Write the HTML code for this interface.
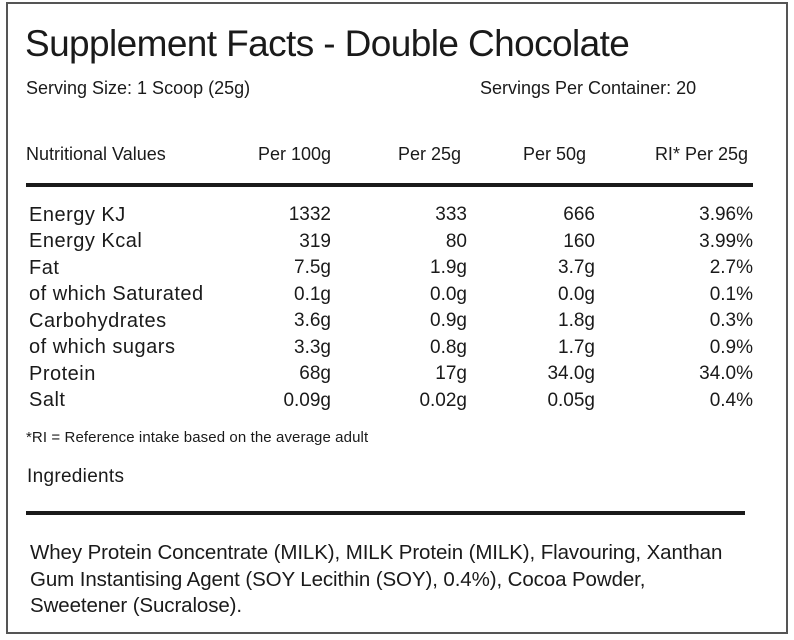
<!DOCTYPE html>
<html><head><meta charset="utf-8"><style>
body{margin:0;width:794px;height:640px;background:#fff;position:relative;font-family:"Liberation Sans",Arial,sans-serif;color:#1a1a1a;overflow:hidden}
.b{position:absolute;left:6px;top:2px;width:778px;height:628px;border:2px solid #555}
.t{position:absolute;white-space:nowrap;line-height:1}
.r{text-align:right}
.hl{position:absolute;background:#1a1a1a}
</style></head><body>
<div class="b"></div>
<div class="t" style="left:25px;top:25px;font-size:37px;letter-spacing:-0.6px">Supplement Facts - Double Chocolate</div>
<div class="t" style="left:26px;top:79px;font-size:18px">Serving Size: 1 Scoop (25g)</div>
<div class="t" style="left:480px;top:79px;font-size:18px">Servings Per Container: 20</div>
<div class="t" style="left:26px;top:145px;font-size:18px">Nutritional Values</div>
<div class="t r" style="left:200px;width:131px;top:145px;font-size:18px">Per 100g</div>
<div class="t r" style="left:360px;width:101px;top:145px;font-size:18px">Per 25g</div>
<div class="t r" style="left:480px;width:106px;top:145px;font-size:18px">Per 50g</div>
<div class="t r" style="left:600px;width:148px;top:145px;font-size:18px">RI* Per 25g</div>
<div class="hl" style="left:26px;top:183px;width:727px;height:4px"></div>
<div id="rows"></div>
<div class="t" style="left:26px;top:430px;font-size:15px;letter-spacing:0.1px">*RI = Reference intake based on the average adult</div>
<div class="t" style="left:27px;top:467px;font-size:19px;letter-spacing:0.3px">Ingredients</div>
<div class="hl" style="left:26px;top:511px;width:719px;height:4px"></div>
<div class="t" style="left:30px;top:540px;font-size:20.5px;line-height:26.5px;letter-spacing:-0.1px">Whey Protein Concentrate (MILK), MILK Protein (MILK), Flavouring, Xanthan<br>Gum Instantising Agent (SOY Lecithin (SOY), 0.4%), Cocoa Powder,<br>Sweetener (Sucralose).</div>
<script>
var d=[["Energy KJ","1332","333","666","3.96%"],["Energy Kcal","319","80","160","3.99%"],["Fat","7.5g","1.9g","3.7g","2.7%"],["of which Saturated","0.1g","0.0g","0.0g","0.1%"],["Carbohydrates","3.6g","0.9g","1.8g","0.3%"],["of which sugars","3.3g","0.8g","1.7g","0.9%"],["Protein","68g","17g","34.0g","34.0%"],["Salt","0.09g","0.02g","0.05g","0.4%"]];
var rr=[331,467,595,753],h="";
d.forEach(function(r,i){var y=205+i*26.5;
h+='<div class="t" style="left:29px;top:'+(y-0.5)+'px;font-size:20px;letter-spacing:0.5px">'+r[0]+'</div>';
for(var j=0;j<4;j++)h+='<div class="t r" style="left:'+(rr[j]-120)+'px;width:120px;top:'+y+'px;font-size:19px">'+r[j+1]+'</div>';});
document.getElementById('rows').innerHTML=h;
</script>
</body></html>
